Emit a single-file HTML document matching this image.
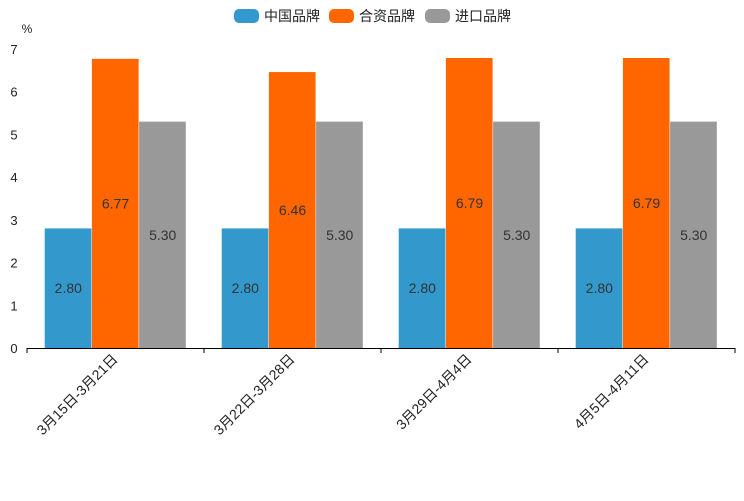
<!DOCTYPE html>
<html><head><meta charset="utf-8"><style>
body{margin:0;background:#fff;font-family:"Liberation Sans","Noto Sans CJK SC",sans-serif}
svg text{font-family:"Liberation Sans","Noto Sans CJK SC",sans-serif}
</style></head><body>
<svg id="c" width="744" height="496"></svg>
<script>
const categories=["3月15日-3月21日","3月22日-3月28日","3月29日-4月4日","4月5日-4月11日"];
const seriesNames=["中国品牌","合资品牌","进口品牌"];
const chinaValues=[2.80,2.80,2.80,2.80];
const jvValues=[6.77,6.46,6.79,6.79];
const importValues=[5.30,5.30,5.30,5.30];
const yTicks=[0,1,2,3,4,5,6,7];
const colors=["#3399cc","#ff6600","#999999"];
const svg=document.getElementById('c');
const NS="http://www.w3.org/2000/svg";
const L=27,R=735,T=49,B=348,YMAX=7;
const y=v=>B-(v/YMAX)*(B-T);
const band=(R-L)/categories.length;
const xb=i=>L+i*band;
function mk(tag,attrs,txt){const e=document.createElementNS(NS,tag);for(const k in attrs)e.setAttribute(k,attrs[k]);if(txt!==undefined)e.textContent=txt;svg.appendChild(e);return e;}
yTicks.forEach(t=>{const e=mk('text',{x:14,y:y(t)+5,'text-anchor':'middle','font-size':13,fill:'#222'},t);

});
const u=mk('text',{x:27,y:33,'text-anchor':'middle','font-size':12,fill:'#222'},'%');


const series=[chinaValues,jvValues,importValues];
const bw=band*0.8/3;
categories.forEach((c,i)=>{
  series.forEach((s,j)=>{
    const x0=xb(i)+band*0.1+j*bw;
    const r=mk('rect',{x:x0,y:y(s[i]),width:bw-0.5,height:B-y(s[i]),fill:colors[j]});
    
    
    const t=mk('text',{x:x0+bw/2,y:(y(s[i])+B)/2+5,'text-anchor':'middle','font-size':14,fill:'#333'},s[i].toFixed(2));
    
    
  });
  const cx=xb(i)+band/2;
  const lb=mk('text',{x:cx+3,y:360,'text-anchor':'end','font-size':14,fill:'#222',transform:`rotate(-45 ${cx+3} 360)`},c);
  
  
});
const ax=mk('line',{x1:L,y1:B+0.5,x2:R,y2:B+0.5,stroke:'#000','stroke-width':1});


for(let i=0;i<=categories.length;i++){const tk=mk('line',{x1:xb(i),y1:B,x2:xb(i),y2:B+5,stroke:'#000'});

}
const legX=[234,329,425];
seriesNames.forEach((n,j)=>{
  const g=document.createElementNS(NS,'g');svg.appendChild(g);
  
  
  const r=document.createElementNS(NS,'rect');
  [['x',legX[j]],['y',9],['width',25],['height',14],['rx',5],['fill',colors[j]]].forEach(a=>r.setAttribute(a[0],a[1]));
  g.appendChild(r);
  const t=document.createElementNS(NS,'text');
  [['x',legX[j]+30],['y',21],['font-size',14],['fill','#222']].forEach(a=>t.setAttribute(a[0],a[1]));
  t.textContent=n;g.appendChild(t);
});
</script>
</body></html>
